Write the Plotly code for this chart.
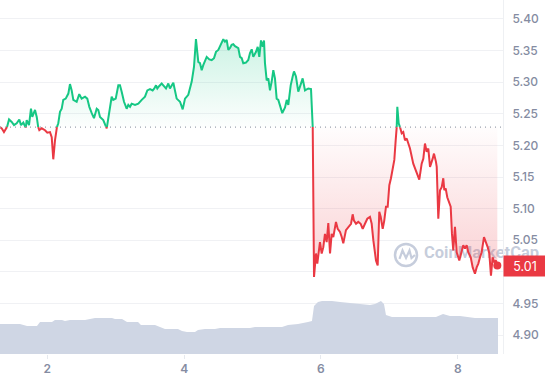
import plotly.graph_objects as go

# ---------------- data ----------------
time_a = [1.308,1.333,1.366,1.406,1.440,1.479,1.513,1.552,1.590,1.615,1.649,1.684,1.698,1.732,1.761,1.780,1.820,1.845,1.868,1.883,1.918,1.966,2.000,2.039,2.064,2.087,2.112,2.137,2.160,2.185,2.210,2.233,2.269,2.307,2.331,2.356,2.380,2.429,2.467,2.502,2.551,2.584,2.614,2.649,2.682,2.722,2.745,2.770]
price_a = [5.229,5.227,5.221,5.227,5.241,5.237,5.232,5.235,5.241,5.232,5.236,5.228,5.240,5.232,5.258,5.245,5.256,5.245,5.228,5.224,5.227,5.224,5.220,5.221,5.213,5.178,5.208,5.228,5.235,5.253,5.258,5.272,5.274,5.282,5.297,5.287,5.272,5.269,5.281,5.274,5.277,5.274,5.261,5.251,5.243,5.258,5.256,5.245]

time_b = [2.818,2.868,2.902,2.941,2.964,3.000,3.038,3.062,3.087,3.121,3.160,3.184,3.209,3.233,3.282,3.330,3.380,3.428,3.462,3.501,3.540,3.564,3.589,3.608,3.637,3.672,3.695,3.735,3.769]
price_b = [5.240,5.227,5.248,5.277,5.272,5.274,5.295,5.295,5.285,5.269,5.258,5.264,5.261,5.266,5.264,5.266,5.272,5.277,5.287,5.289,5.287,5.290,5.295,5.290,5.294,5.298,5.295,5.290,5.298]

time_c = [3.793,3.842,3.891,3.940,3.979,4.013,4.061,4.111,4.144,4.173,
          4.207,4.232,4.257,4.280,4.330,4.368,4.403,4.437,4.466,4.500,
          4.524,4.549,4.573,4.597,4.622,4.646,4.671,4.695,4.719,4.744,
          4.769,4.792,4.817,4.842,4.865,4.904,4.938,4.963,4.988,5.011,
          5.051,5.076,5.099,5.124,5.149,5.168,5.182,5.207,5.231,5.255,
          5.280,5.304,5.328,5.353,5.377,5.402,5.435,5.475,5.500,5.523,
          5.558,5.587,5.606,5.635,5.669,5.694,5.733,5.767,5.815,5.855,
          5.880]
price_c = [5.290,5.299,5.274,5.269,5.257,5.274,5.280,5.301,5.324,5.368,
           5.332,5.330,5.319,5.327,5.340,5.336,5.335,5.338,5.348,5.351,
           5.356,5.361,5.368,5.364,5.367,5.351,5.354,5.359,5.360,5.357,
           5.356,5.354,5.340,5.338,5.330,5.331,5.335,5.346,5.352,5.340,
           5.348,5.356,5.340,5.366,5.356,5.366,5.330,5.303,5.306,5.287,
           5.301,5.319,5.306,5.274,5.272,5.264,5.251,5.260,5.272,5.264,
           5.295,5.309,5.317,5.309,5.285,5.293,5.306,5.287,5.290,5.289,
           5.229]

time_d = [5.888,5.899,5.928,5.947,5.986,6.011,6.035,6.059,6.084,6.108,
          6.133,6.157,6.181,6.220,6.245,6.279,6.304,6.327,6.366,6.400,
          6.440,6.464,6.483,6.513,6.546,6.581,6.611,6.644,6.678,6.717,
          6.742,6.766,6.805,6.830,6.853,6.874,6.903,6.926,6.951,6.976,
          7.000,7.024,7.049,7.073,7.093,7.108,7.117,7.137,7.156,7.181,
          7.204,7.229,7.254]
price_d = [5.081,4.992,5.029,5.013,5.047,5.029,5.039,5.060,5.047,5.077,
           5.029,5.060,5.055,5.079,5.068,5.063,5.055,5.045,5.066,5.071,
           5.076,5.091,5.081,5.076,5.079,5.076,5.068,5.076,5.084,5.087,
           5.076,5.050,5.018,5.010,5.095,5.087,5.068,5.081,5.103,5.103,
           5.137,5.148,5.161,5.177,5.208,5.229,5.261,5.235,5.229,5.219,
           5.221,5.208,5.211]

time_e = [7.302,7.350,7.400,7.438,7.473,7.497,7.521,7.546,7.570,7.595,
          7.634,7.653,7.682,7.693,7.716,7.741,7.766,7.789,7.804,7.824,
          7.847,7.877,7.897,7.916,7.935,7.960,7.985,8.023,8.058,8.081,
          8.106,8.131,8.154,8.190,8.219,8.252,8.277,8.301,8.326,8.350,
          8.384,8.413,8.438,8.462,8.486,8.511,8.535,8.559,8.579]
price_e = [5.195,5.171,5.155,5.146,5.171,5.179,5.203,5.190,5.195,5.166,
           5.179,5.187,5.174,5.166,5.084,5.129,5.134,5.148,5.129,5.132,
           5.118,5.110,5.103,5.060,5.034,5.071,5.031,5.018,5.031,5.042,
           5.037,5.042,5.031,5.023,5.007,4.997,5.007,5.013,5.023,5.031,
           5.055,5.047,5.039,5.029,4.994,5.023,5.015,5.018,5.010]

vol_time = [1.308,1.498,1.600,1.703,1.849,1.893,2.068,2.112,2.214,2.258,
            2.331,2.551,2.624,2.697,2.945,2.989,3.092,3.165,3.326,3.369,
            3.574,3.647,3.720,3.910,3.969,4.042,4.159,4.203,4.305,4.451,
            4.524,4.817,4.963,5.036,5.255,5.431,5.519,5.665,5.811,5.869,
            5.899,5.957,6.016,6.162,6.279,6.425,6.571,6.717,6.791,6.878,
            6.922,6.951,7.039,7.156,7.448,7.682,7.785,7.887,8.033,8.150,
            8.252,8.589]
volume = [150,150,150,140,140,160,160,170,170,165,
          170,170,175,180,180,175,175,160,160,145,
          145,135,125,125,115,110,110,120,125,125,
          130,130,130,135,135,135,145,150,160,165,
          240,260,265,265,260,255,250,245,250,265,
          250,195,185,185,185,185,200,190,190,185,
          180,180]

baseline = 5.229
x_tickvals = [2, 4, 6, 8]
x_ticktext = ["2", "4", "6", "8"]
y_tickvals = [4.90, 4.95, 5.00, 5.05, 5.10, 5.15, 5.20, 5.25, 5.30, 5.35, 5.40]
y_ticktext = ["4.90", "4.95", "", "5.05", "5.10", "5.15", "5.20", "5.25", "5.30", "5.35", "5.40"]
watermark = "CoinMarketCap"

GREEN = "#16c784"
RED = "#ea3943"
GREY = "#858ca2"
WM = "rgba(160,172,196,0.6)"

time = time_a + time_b + time_c + time_d + time_e
price = price_a + price_b + price_c + price_d + price_e

# insert baseline crossings so colours switch exactly at the baseline
t2, p2 = [], []
for i in range(len(time)):
    if i > 0:
        a = price[i - 1] - baseline
        b = price[i] - baseline
        if a * b < 0:
            f = a / (a - b)
            t2.append(time[i - 1] + f * (time[i] - time[i - 1]))
            p2.append(baseline)
    t2.append(time[i])
    p2.append(price[i])

upper = [max(p, baseline) for p in p2]
lower = [min(p, baseline) for p in p2]
green = [p if p >= baseline else None for p in p2]
red = [p if p <= baseline else None for p in p2]
base_line = [baseline] * len(t2)

X_RANGE = [1.308, 8.662]
Y_RANGE = [4.870, 5.430]
PW, PH = 503, 354  # plot area in px


def px(x, y):
    return x / PW, 1 - y / PH


def px_data(x, y):
    fx, fy = px(x, y)
    return (X_RANGE[0] + fx * (X_RANGE[1] - X_RANGE[0]),
            Y_RANGE[0] + fy * (Y_RANGE[1] - Y_RANGE[0]))


fig = go.Figure()

# watermark text (below the price line, allowed to spill past the plot edge)
wx, wy = px_data(424, 254)
fig.add_trace(go.Scatter(x=[wx], y=[wy], mode="text", text=[watermark],
                         textposition="middle right", cliponaxis=False,
                         textfont=dict(family="Roboto", size=16.5, color=WM, weight=700),
                         hoverinfo="skip", showlegend=False))

# volume
fig.add_trace(go.Scatter(x=vol_time, y=volume, yaxis="y2", mode="lines",
                         line=dict(width=0, shape="linear"), fill="tozeroy",
                         fillcolor="#cfd6e4", hoverinfo="skip", showlegend=False))

# green fill
fig.add_trace(go.Scatter(x=t2, y=base_line, mode="lines", line=dict(width=0),
                         hoverinfo="skip", showlegend=False))
fig.add_trace(go.Scatter(x=t2, y=upper, mode="lines", line=dict(width=0),
                         fill="tonexty",
                         fillgradient=dict(type="vertical", start=baseline, stop=5.37,
                                           colorscale=[[0, "rgba(22,199,132,0.01)"],
                                                       [1, "rgba(22,199,132,0.22)"]]),
                         hoverinfo="skip", showlegend=False))
# red fill
fig.add_trace(go.Scatter(x=t2, y=base_line, mode="lines", line=dict(width=0),
                         hoverinfo="skip", showlegend=False))
fig.add_trace(go.Scatter(x=t2, y=lower, mode="lines", line=dict(width=0),
                         fill="tonexty",
                         fillgradient=dict(type="vertical", start=4.99, stop=baseline,
                                           colorscale=[[0, "rgba(234,57,67,0.24)"],
                                                       [1, "rgba(234,57,67,0.01)"]]),
                         hoverinfo="skip", showlegend=False))

# price lines
fig.add_trace(go.Scatter(x=t2, y=green, mode="lines", line=dict(color=GREEN, width=2),
                         connectgaps=False, showlegend=False))
fig.add_trace(go.Scatter(x=t2, y=red, mode="lines", line=dict(color=RED, width=2),
                         connectgaps=False, showlegend=False))
fig.add_trace(go.Scatter(x=[time[-1]], y=[price[-1]], mode="markers",
                         marker=dict(color=RED, size=8), showlegend=False))

shapes = [
    dict(type="line", xref="paper", x0=0, x1=1, yref="y", y0=baseline, y1=baseline,
         line=dict(color="#9aa1ad", width=1.2, dash="1px,4px"), layer="above"),
]
cx, cy = px(406, 255)
rx, ry = 11 / PW, 11 / PH
shapes.append(dict(type="circle", xref="paper", yref="paper",
                   x0=cx - rx, x1=cx + rx, y0=cy - ry, y1=cy + ry,
                   line=dict(color=WM, width=2.5), layer="below"))
pts = [(399.5, 259), (402.5, 250.5), (406, 258), (409.5, 250.5), (411.5, 258), (415, 255)]
path = "M " + " L ".join(f"{px(a, b)[0]:.4f},{px(a, b)[1]:.4f}" for a, b in pts)
shapes.append(dict(type="path", xref="paper", yref="paper", path=path,
                   line=dict(color=WM, width=2.2), layer="below"))

annotations = [
    dict(text=f"{price[-1]:.2f}", xref="paper", yref="y", x=1, y=price[-1],
         xanchor="left", yanchor="middle", showarrow=False,
         bgcolor=RED, width=38, height=16, borderpad=2,
         font=dict(family="Inter", size=12.5, color="white")),
]

fig.update_layout(
    width=545, height=380,
    margin=dict(l=0, r=42, t=0, b=26),
    paper_bgcolor="white", plot_bgcolor="white",
    showlegend=False,
    shapes=shapes, annotations=annotations,
    xaxis=dict(range=X_RANGE, tickvals=x_tickvals, ticktext=x_ticktext,
               showgrid=False, zeroline=False, ticks="outside", ticklen=4,
               tickcolor="#e6e9ee", showline=False,
               tickfont=dict(family="Inter", size=12, color=GREY, weight=600)),
    yaxis=dict(range=Y_RANGE, side="right", tickvals=y_tickvals, ticktext=y_ticktext,
               showgrid=True, gridcolor="#f0f1f4", gridwidth=1, zeroline=False,
               ticks="outside", ticklen=6, tickcolor="rgba(0,0,0,0)",
               showline=True, linecolor="#eef0f3", linewidth=1,
               tickfont=dict(family="Inter", size=12, color=GREY, weight=500)),
    yaxis2=dict(range=[0, 1770], overlaying="y", visible=False, fixedrange=True),
)

fig.write_html("out.html")
